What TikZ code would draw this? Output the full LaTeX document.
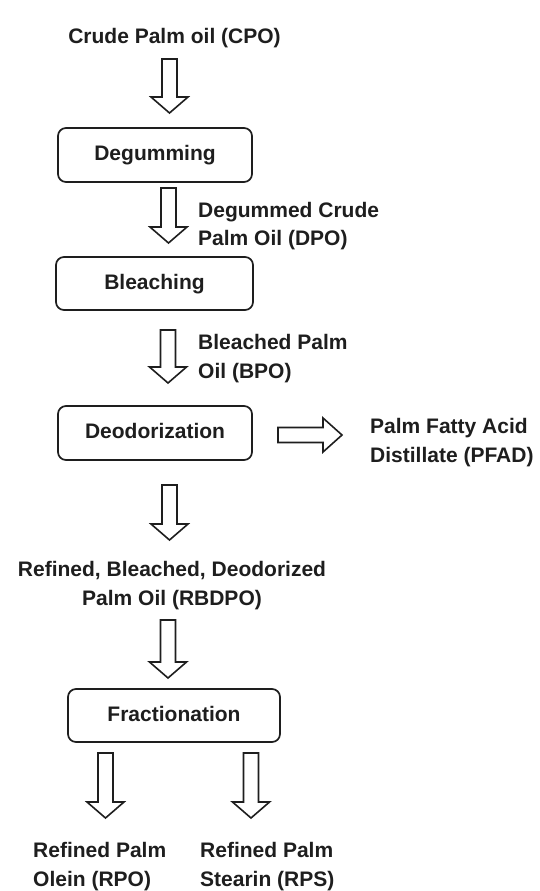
\documentclass[tikz,border=0pt]{standalone}
\usepackage{fontspec}
\setmainfont{Liberation Sans}
\usetikzlibrary{calc}
\definecolor{ink}{HTML}{1E1E1E}
\newcommand{\downblock}[2]{%
  \draw[blockarr] let \p1=(#1), \p2=(#2) in
    (\x1-7.5pt,\y1) -- (\x1-7.5pt,\y2+16pt) -- (\x1-18.5pt,\y2+16pt) -- (\x1,\y2)
    -- (\x1+18.5pt,\y2+16pt) -- (\x1+7.5pt,\y2+16pt) -- (\x1+7.5pt,\y1) -- cycle;}
\newcommand{\rightblock}[2]{%
  \draw[blockarr] let \p1=(#1), \p2=(#2) in
    (\x1,\y1+7.5pt) -- (\x2-19pt,\y1+7.5pt) -- (\x2-19pt,\y1+17pt) -- (\x2,\y1)
    -- (\x2-19pt,\y1-17pt) -- (\x2-19pt,\y1-7.5pt) -- (\x1,\y1-7.5pt) -- cycle;}
\begin{document}
\begin{tikzpicture}[x=1pt,y=-1pt,
  txt/.style={font=\fontsize{21}{28.5}\selectfont\bfseries, text=ink, inner sep=0pt},
  procbox/.style={txt, draw=ink, line width=1.7pt, rounded corners=8pt,
    text height=15pt, text depth=4pt, align=center},
  blockarr/.style={draw=ink, line width=1.6pt, fill=white, line join=miter}]
\useasboundingbox[fill=white] (0,0) rectangle (540,891);

% texts (for two-line nodes the base anchor is the baseline of the last line)
\node[txt, anchor=base] (cpo) at (174.5,44) {Crude Palm oil (CPO)};
\node[procbox, minimum width=194pt, minimum height=54pt] (deg) at (155,155) {Degumming};
\node[txt, anchor=base west, align=left] (dpo) at (198,245.5) {Degummed Crude\\Palm Oil (DPO)};
\node[procbox, minimum width=197pt, minimum height=53pt] (ble) at (154.5,283.5) {Bleaching};
\node[txt, anchor=base west, align=left] (bpo) at (198,378) {Bleached Palm\\Oil (BPO)};
\node[procbox, minimum width=194pt, minimum height=54pt] (deo) at (155,433) {Deodorization};
\node[txt, anchor=base west, align=left] (pfad) at (370,462) {Palm Fatty Acid\\Distillate (PFAD)};
\node[txt, anchor=base, align=center] (rbdpo) at (172,605) {Refined, Bleached, Deodorized\\Palm Oil (RBDPO)};
\node[procbox, minimum width=212pt, minimum height=53pt] (fra) at (174,715.5) {Fractionation};
\node[txt, anchor=base west, align=left] (rpo) at (33,886) {Refined Palm\\Olein (RPO)};
\node[txt, anchor=base west, align=left] (rps) at (200,886) {Refined Palm\\Stearin (RPS)};

% arrow end points
\coordinate (a1s) at (169.5,59);  \coordinate (a1e) at (169.5,113);
\coordinate (a2s) at (168.5,188); \coordinate (a2e) at (168.5,243);
\coordinate (a3s) at (168,330);   \coordinate (a3e) at (168,383);
\coordinate (a4s) at (169.5,485); \coordinate (a4e) at (169.5,540);
\coordinate (a5s) at (168,620);   \coordinate (a5e) at (168,678);
\coordinate (a6s) at (105.5,753); \coordinate (a6e) at (105.5,818);
\coordinate (a7s) at (251,753);   \coordinate (a7e) at (251,818);
\coordinate (hs) at (278,435);    \coordinate (he) at (342,435);

\downblock{a1s}{a1e}
\downblock{a2s}{a2e}
\downblock{a3s}{a3e}
\downblock{a4s}{a4e}
\downblock{a5s}{a5e}
\downblock{a6s}{a6e}
\downblock{a7s}{a7e}
\rightblock{hs}{he}
\end{tikzpicture}
\end{document}
